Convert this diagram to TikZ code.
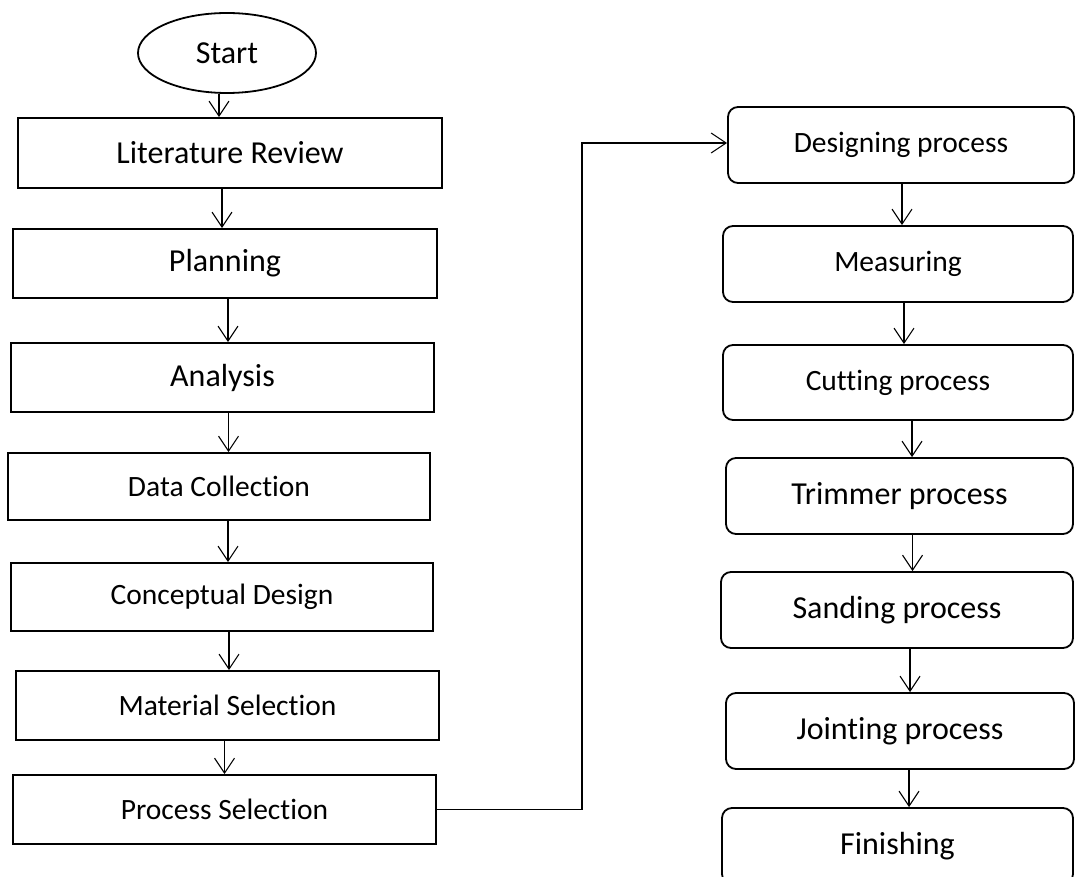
\documentclass[tikz,border=0pt]{standalone}
\usepackage{fontspec}
\setmainfont{Carlito}[Ligatures=NoCommon]
\usetikzlibrary{shapes.geometric,arrows.meta}
\begin{document}
\begin{tikzpicture}[x=1pt,y=-1pt,
  box/.style={draw,line width=1.8pt,inner sep=0pt},
  rbox/.style={box,rounded corners=10pt},
  bigtxt/.style={font=\fontsize{32}{36}\selectfont},
  smalltxt/.style={font=\fontsize{29.5}{33}\selectfont},
  arr/.style={line width=1.1pt,-{Straight Barb[length=15pt,width=20pt]}}]
\clip (0,0) rectangle (1075,877);

\node[draw,ellipse,line width=1.8pt,minimum width=178,minimum height=80,bigtxt] (start) at (227,53) {Start};
\node[box,minimum width=424,minimum height=70,bigtxt] (lit) at (230,153) {Literature Review};
\node[box,minimum width=424,minimum height=69,bigtxt] (plan) at (225,263.5) {Planning};
\node[box,minimum width=423,minimum height=69,bigtxt] (ana) at (222.5,377.5) {Analysis};
\node[box,minimum width=422,minimum height=67,smalltxt] (data) at (219,486.5) {Data Collection};
\node[box,minimum width=422,minimum height=68,smalltxt] (concept) at (222,597) {Conceptual Design};
\node[box,minimum width=423,minimum height=69,smalltxt] (material) at (227.5,705.5) {Material Selection};
\node[box,minimum width=423,minimum height=69,smalltxt] (process) at (224.5,809.5) {Process Selection};

\draw[arr] ([xshift=-8pt]start.south) -- ([xshift=-8pt]start.south |- lit.north);
\draw[arr] ([xshift=-8pt]lit.south) -- ([xshift=-8pt]lit.south |- plan.north);
\draw[arr] ([xshift=3pt]plan.south) -- ([xshift=3pt]plan.south |- ana.north);
\draw[arr] ([xshift=6pt]ana.south) -- ([xshift=6pt]ana.south |- data.north);
\draw[arr] ([xshift=9pt]data.south) -- ([xshift=9pt]data.south |- concept.north);
\draw[arr] ([xshift=7pt]concept.south) -- ([xshift=7pt]concept.south |- material.north);
\draw[arr] ([xshift=-3pt]material.south) -- ([xshift=-3pt]material.south |- process.north);

\node[rbox,minimum width=346,minimum height=76,smalltxt] (design) at (901,145) {Designing process};
\node[rbox,minimum width=350,minimum height=76,smalltxt] (measure) at (898,264) {Measuring};
\node[rbox,minimum width=350,minimum height=75,smalltxt] (cut) at (898,382.5) {Cutting process};
\node[rbox,minimum width=347,minimum height=76,bigtxt] (trim) at (899.5,496) {Trimmer process};
\node[rbox,minimum width=352,minimum height=76,bigtxt] (sand) at (897,610) {Sanding process};
\node[rbox,minimum width=348,minimum height=76,bigtxt] (joint) at (900,731) {Jointing process};
\node[rbox,minimum width=351,minimum height=76,bigtxt] (finish) at (897.5,846) {Finishing};

\draw[arr] ([xshift=1pt]design.south) -- ([xshift=1pt]design.south |- measure.north);
\draw[arr] ([xshift=6pt]measure.south) -- ([xshift=6pt]measure.south |- cut.north);
\draw[arr] ([xshift=14pt]cut.south) -- ([xshift=14pt]cut.south |- trim.north);
\draw[arr] ([xshift=13pt]trim.south) -- ([xshift=13pt]trim.south |- sand.north);
\draw[arr] ([xshift=13pt]sand.south) -- ([xshift=13pt]sand.south |- joint.north);
\draw[arr] ([xshift=9pt]joint.south) -- ([xshift=9pt]joint.south |- finish.north);

\coordinate (bend) at (582,143);
\draw[arr] (process.east) -| (bend) -- (bend -| design.west);
\end{tikzpicture}
\end{document}
